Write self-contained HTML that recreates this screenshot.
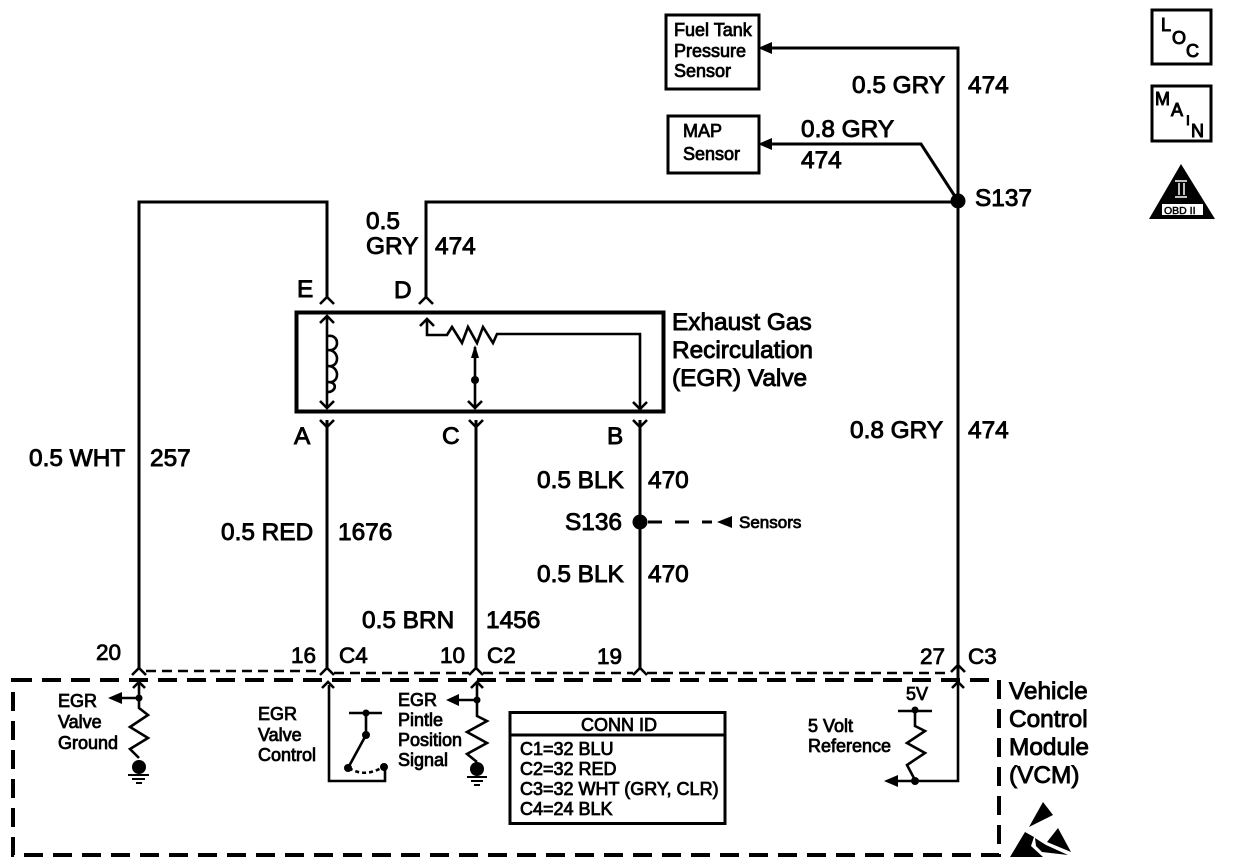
<!DOCTYPE html>
<html><head><meta charset="utf-8"><style>
html,body{margin:0;padding:0;background:#fff;width:1248px;height:868px;overflow:hidden}
svg{display:block}
text{font-family:"Liberation Sans",sans-serif;fill:#000;stroke:#000}
.l{font-size:24.400px;stroke-width:.9px}
.m{font-size:22.500px;stroke-width:.8px}
.s{font-size:18px;stroke-width:.8px}
.w{fill:none;stroke:#000;stroke-width:3}
.t{fill:none;stroke:#000;stroke-width:2.600}
</style></head><body>
<svg width="1248" height="868" viewBox="0 0 1248 868" xmlns="http://www.w3.org/2000/svg">
<g class="w">
<path d="M139 668V202H327V298"/>
<path d="M426 298V202H958V680"/>
<path d="M772 48H958V202"/>
<path d="M772 144H921L958 201"/>
<path d="M327 420V668"/><path d="M476 420V668"/><path d="M640 420V668"/>
<rect x="296.500" y="312.500" width="367" height="99" stroke-width="4"/>
</g>
<circle cx="958" cy="201" r="7.500"/><circle cx="640" cy="522" r="7.500"/>
<path d="M772 42L772 54L758 48Z M772 138L772 150L758 144Z M732 516L732 528L717 522Z"/>
<path d="M648 522H712" class="w" stroke-dasharray="14 13"/>
<!-- connector chevrons -->
<g class="t">
<path d="M320 304L327 297L334 304M419 304L426 297L433 304"/>
<path d="M320 420L327 427L334 420M469 420L476 427L483 420M633 420L640 427L647 420"/>
<path d="M132 675L139 668L146 675M320 675L327 668L334 675M469 675L476 668L483 675M633 675L640 668L647 675M951 672L958 665L965 672"/>
<path d="M133 688L139 682L145 688M322 688L328 682L334 688M471 688L477 682L483 688M952 688L958 682L964 688"/>
</g>
<!-- dashed lines -->
<path d="M146 671H320M334 673H469M483 673H633M647 673H951" class="t" stroke-width="3" stroke-dasharray="10 6"/>
<path d="M13 680H999V855H13Z" fill="none" stroke="#000" stroke-width="4" stroke-dasharray="19 10"/>
<!-- inside EGR valve -->
<g class="t">
<path d="M327 316V408M320 323L327 316L334 323M320 401L327 408L334 401"/>
<path d="M328 336C340 334 340 352 328 350C340 350 340 368 328 366C340 366 340 384 328 382C338 382 336 392 328 392"/>
<path d="M427 319V335H447L452 327L462 343L468 327L477 343L483 327L493 343L497 334H640V407"/>
<path d="M420 326L427 319L434 326M633 402L640 409L647 402"/>
<path d="M475 347V408M468 401L475 408L482 401"/>
</g>
<path d="M475 345L471 358H479Z"/><circle cx="475" cy="380" r="4"/>
<!-- VCM internals -->
<g class="t">
<path d="M139 684V708L148 715L130 727L148 738L130 749L139 758"/>
<path d="M120 698H139"/><path d="M128 775H149M132 779H145M136 783H142" stroke-width="2"/>
<path d="M477 684V716L487 721L467 732L487 743L467 754L477 762"/>
<path d="M459 700H477"/><path d="M467 777H487M471 781H483M474 785H480" stroke-width="2"/>
<path d="M329 685V781H385V770"/>
<path d="M349 713H382M366 713V735L348 768"/>
<path d="M349 768Q365 778 383 767" stroke-dasharray="4 3"/>
<path d="M915 708V726L925 731L907 743L925 753L907 765L915 780M898 711H932"/>
<path d="M958 684V781H896"/>
</g>
<path d="M108 698L122 692V704Z M446 700L459 694V706Z M884 781L898 775V787Z"/>
<circle cx="139" cy="698" r="3.500"/><circle cx="477" cy="700" r="3.500"/>
<circle cx="366" cy="713" r="3.500"/><circle cx="366" cy="735" r="4"/><circle cx="348" cy="768" r="4"/><circle cx="384" cy="767" r="4"/>
<circle cx="915" cy="710" r="3.500"/><circle cx="915" cy="781" r="4"/>
<circle cx="139" cy="767" r="7"/><circle cx="477" cy="769" r="7"/>
<!-- boxes -->
<rect x="666" y="15" width="93" height="74" class="w" stroke-width="4"/>
<rect x="668" y="116" width="91" height="57" class="w" stroke-width="4"/>
<rect x="510" y="712.500" width="215" height="111" class="w" stroke-width="4"/>
<path d="M510 735H725" class="w"/>
<rect x="1152" y="10" width="59" height="54" class="w" stroke-width="4"/>
<rect x="1152" y="86" width="59" height="55" class="w" stroke-width="4"/>
<path d="M1181 164L1215 219H1149Z"/>
<rect x="1162" y="204" width="41" height="11" fill="#fff"/>
<text x="1164" y="214" style="font-size:10.500px;stroke-width:.5px">OBD II</text>
<path d="M1175 181H1187M1175 197H1187M1179 183V195M1184 183V195" stroke="#fff" stroke-width="1.500" fill="none"/>
<!-- ESD symbol -->
<path d="M1043 802L1053 815L1029 827Z"/>
<path d="M1058 828L1071 852L1047 842Z"/>
<path d="M1010 857L1025 832L1034 837L1031 846L1043 857Z"/>
<path d="M1035 838L1046 845L1068 855L1042 852L1036 846Z"/>
<!-- small box text -->
<g class="s">
<text x="674" y="36">Fuel Tank</text><text x="674" y="57">Pressure</text><text x="674" y="77">Sensor</text>
<text x="683" y="137">MAP</text><text x="683" y="160">Sensor</text>
<text x="739" y="528" style="font-size:17px">Sensors</text>
<text x="58" y="707">EGR</text><text x="58" y="728">Valve</text><text x="58" y="749">Ground</text>
<text x="258" y="720">EGR</text><text x="258" y="741">Valve</text><text x="258" y="761">Control</text>
<text x="398" y="706">EGR</text><text x="398" y="726">Pintle</text><text x="398" y="746">Position</text><text x="398" y="766">Signal</text>
<text x="808" y="732">5 Volt</text><text x="808" y="752">Reference</text>
<text x="906" y="700">5V</text>
<text x="581" y="731">CONN ID</text>
<text x="520" y="755">C1=32 BLU</text><text x="520" y="775">C2=32 RED</text><text x="520" y="795">C3=32 WHT (GRY, CLR)</text><text x="520" y="815">C4=24 BLK</text>
</g>
<g>
<text x="1161" y="31" style="font-size:18px;stroke-width:1px">L</text><text x="1172" y="44" style="font-size:18px;stroke-width:1px">O</text><text x="1186" y="57" style="font-size:18px;stroke-width:1px">C</text>
<text x="1155" y="105" style="font-size:18px;stroke-width:1px">M</text><text x="1171" y="116" style="font-size:18px;stroke-width:1px">A</text><text x="1186" y="125" style="font-size:14px;stroke-width:1px">I</text><text x="1191" y="137" style="font-size:18px;stroke-width:1px">N</text>
</g>
<!-- labels -->
<g class="l">
<text x="852" y="93">0.5 GRY</text><text x="968" y="93">474</text>
<text x="801" y="137">0.8 GRY</text><text x="801" y="168">474</text>
<text x="975" y="206">S137</text>
<text x="366" y="229">0.5</text><text x="366" y="254">GRY</text><text x="435" y="254">474</text>
<text x="850" y="438">0.8 GRY</text><text x="968" y="438">474</text>
<text x="29" y="466">0.5 WHT</text><text x="150" y="466">257</text>
<text x="221" y="540">0.5 RED</text><text x="338" y="540">1676</text>
<text x="537" y="488">0.5 BLK</text><text x="648" y="488">470</text>
<text x="565" y="530">S136</text>
<text x="537" y="582">0.5 BLK</text><text x="648" y="582">470</text>
<text x="362" y="628">0.5 BRN</text><text x="486" y="628">1456</text>
<text x="297" y="297">E</text><text x="394" y="298">D</text>
<text x="294" y="444">A</text><text x="442" y="444">C</text><text x="607" y="444">B</text>
<text x="672" y="330">Exhaust Gas</text><text x="672" y="358">Recirculation</text><text x="672" y="386">(EGR) Valve</text>
<text x="1009" y="699">Vehicle</text><text x="1009" y="727">Control</text><text x="1009" y="755">Module</text><text x="1009" y="783">(VCM)</text>
</g>
<g class="m">
<text x="96" y="660">20</text><text x="291" y="663">16</text><text x="339" y="663">C4</text>
<text x="440" y="663">10</text><text x="487" y="663">C2</text><text x="597" y="664">19</text>
<text x="920" y="664">27</text><text x="968" y="664">C3</text>
</g>
</svg>
</body></html>
